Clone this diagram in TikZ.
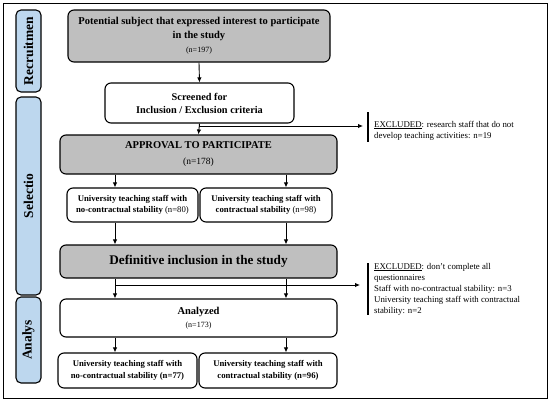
\documentclass[tikz,border=0pt]{standalone}
\usepackage{fontspec}
\setmainfont{Liberation Serif}
\usetikzlibrary{arrows.meta,calc}
\definecolor{boxgray}{HTML}{BFBFBF}
\definecolor{tabblue}{HTML}{BDD7EE}
\begin{document}
\begin{tikzpicture}[x=1pt,y=-1pt,
  box/.style={draw=black, line width=1.1pt, rounded corners=6pt, align=center, inner sep=1pt, fill=white},
  graybox/.style={box, fill=boxgray},
  tab/.style={draw=black, line width=1.1pt, rounded corners=5pt, fill=tabblue, minimum width=25pt, inner sep=0pt},
  tabtext/.style={rotate=90, font=\fontsize{13.5}{14}\selectfont\bfseries},
  arr/.style={line width=0.9pt, -{Latex[length=5pt,width=4.5pt]}},
  bar/.style={line width=1.1pt},
  excl/.style={align=left, inner sep=0pt, anchor=west, font=\fontsize{8.8}{11}\selectfont},
  small/.style={font=\fontsize{8.7}{10.5}\selectfont\bfseries}
]
\useasboundingbox (0,0) rectangle (550,402);
\draw[line width=0.8pt] (3,3) rectangle (547,398);

% side tabs
\node[tab, minimum height=82pt] (t1) at (28.5,51) {};
\node[tabtext] at (t1.center) {Recruitmen};
\node[tab, minimum height=198pt] (t2) at (28.5,196) {};
\node[tabtext] at (t2.center) {Selectio};
\node[tab, minimum height=86pt] (t3) at (28.5,340) {};
\node[tabtext] at (t3.center) {Analys};

% boxes
\node[graybox, minimum width=262pt, minimum height=52pt, font=\fontsize{10.5}{14}\selectfont\bfseries] (b1) at (199,36)
  {Potential subject that expressed interest to participate\\
   in the study\\ {\fontsize{8}{10}\selectfont\mdseries (n=197)}};
\node[box, minimum width=189pt, minimum height=40pt, font=\fontsize{10.3}{13}\selectfont\bfseries] (b2) at (199.5,103)
  {Screened for\\ Inclusion / Exclusion criteria};
\node[graybox, minimum width=277pt, minimum height=39pt, font=\fontsize{10.5}{16}\selectfont\bfseries] (b3) at (198.5,154.5)
  {APPROVAL TO PARTICIPATE\\ {\fontsize{9.5}{11}\selectfont\mdseries (n=178)}};
\node[box, small, minimum width=131pt, minimum height=34pt] (b4a) at (132.5,205)
  {University teaching staff with\\ no-contractual stability \mdseries(n=80)};
\node[box, small, minimum width=132pt, minimum height=34pt] (b4b) at (266,205)
  {University teaching staff with\\ contractual stability \mdseries(n=98)};
\node[graybox, minimum width=277pt, minimum height=33pt, font=\fontsize{13.2}{15}\selectfont\bfseries] (b5) at (198.5,261.5)
  {Definitive inclusion in the study};
\node[box, minimum width=277pt, minimum height=38pt, font=\fontsize{10.5}{13}\selectfont\bfseries] (b6) at (198.5,318)
  {Analyzed\\ {\fontsize{8}{10}\selectfont\mdseries (n=173)}};
\node[box, small, minimum width=139pt, minimum height=35pt, font=\fontsize{8.7}{12}\selectfont\bfseries] (b7a) at (127.5,370.5)
  {University teaching staff with\\ no-contractual stability (n=77)};
\node[box, small, minimum width=138pt, minimum height=35pt, font=\fontsize{8.7}{12}\selectfont\bfseries] (b7b) at (268,370.5)
  {University teaching staff with\\ contractual stability (n=96)};

% excluded notes
\node[excl] (e1) at (374,130.5)
  {\underline{EXCLUDED}: research staff that do not\\ develop teaching activities: n=19};
\draw[bar] (368,112) -- (368,142);
\node[excl] (e2) at (374,289)
  {\underline{EXCLUDED}: don't complete all\\ questionnaires\\ Staff with no-contractual stability: n=3\\
   University teaching staff with contractual\\ stability: n=2};
\draw[bar] (368,263) -- (368,315);

% connectors
\draw[arr] (b1.south) -- (b2.north);
\draw[arr] (b2.south) -- (b3.north);
\coordinate (j1) at (199,126);
\coordinate (x1) at (363,126);
\draw[arr] (j1) -- (x1);
\draw[arr] (b3.south -| b4a.north) ++(-17.5,0) coordinate (s3a) -- (s3a |- b4a.north);
\draw[arr] (b3.south -| b4b.north) ++(20,0) coordinate (s3b) -- (s3b |- b4b.north);
\draw[arr] (s3a |- b4a.south) -- (s3a |- b5.north);
\draw[arr] (s3b |- b4b.south) -- (s3b |- b5.north);
\coordinate (j2) at (115,285);
\coordinate (x2) at (360,285);
\draw[arr] (j2) -- (x2);
\draw[arr] (s3a |- b5.south) -- (s3a |- b6.north);
\draw[arr] (s3b |- b5.south) -- (s3b |- b6.north);
\draw[arr] (s3a |- b6.south) -- (s3a |- b7a.north);
\draw[arr] (s3b |- b6.south) -- (s3b |- b7b.north);
\end{tikzpicture}
\end{document}
